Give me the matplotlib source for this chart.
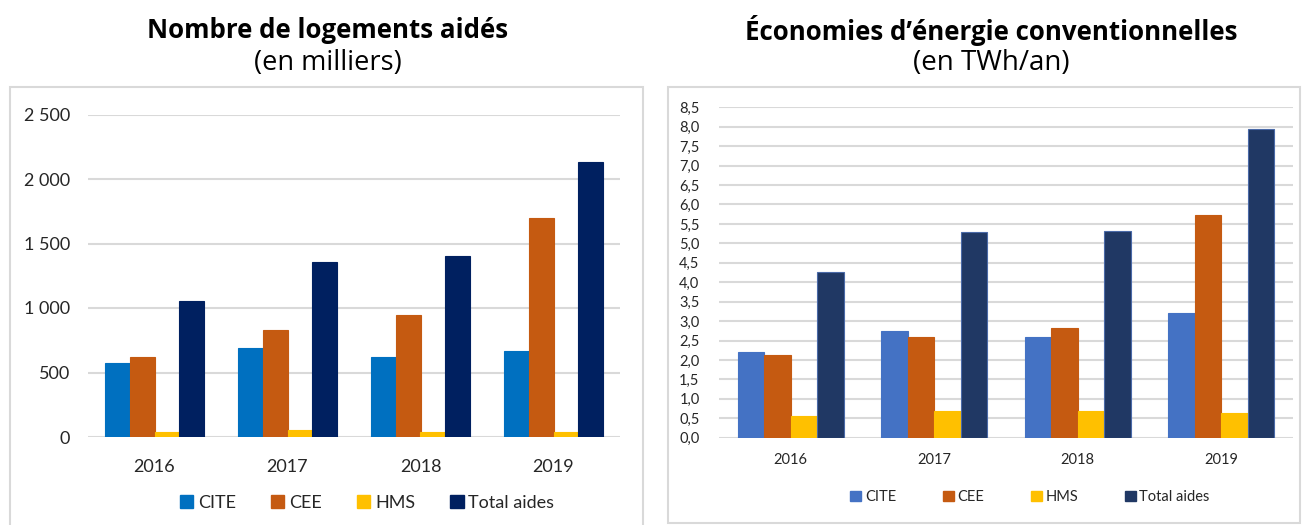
import numpy as np
import matplotlib
matplotlib.use("Agg")
import matplotlib.pyplot as plt
from matplotlib.patches import Rectangle, Patch

plt.rcParams['font.family'] = ['Lato', 'DejaVu Sans']

years = ['2016', '2017', '2018', '2019']
series = ['CITE', 'CEE', 'HMS', 'Total aides']

# Nombre de logements aidés (en milliers)
log_cite = [577, 691, 624, 670]
log_cee = [624, 831, 945, 1698]
log_hms = [41, 52, 41, 41]
log_total = [1056, 1359, 1405, 2130]

# Économies d'énergie conventionnelles (en TWh/an)
ener_cite = [2.21, 2.74, 2.58, 3.22]
ener_cee = [2.14, 2.60, 2.81, 5.72]
ener_hms = [0.57, 0.69, 0.69, 0.64]
ener_total = [4.26, 5.30, 5.32, 7.93]

left_ticks = [0, 500, 1000, 1500, 2000, 2500]
left_ticklabels = ['0', '500', '1 000', '1 500', '2 000', '2 500']
right_ticks = np.arange(0, 8.51, 0.5)
right_ticklabels = [('%.1f' % t).replace('.', ',') for t in right_ticks]

col_left = ['#0070C0', '#C55A11', '#FFC000', '#002060']
col_right = ['#4472C4', '#C55A11', '#FFC000', '#203864']
edge_right = ['#4472C4', '#C55A11', '#FFC000', '#4A6AA8']

W, H = 1302, 525
fig = plt.figure(figsize=(W / 100, H / 100), dpi=100)

def fx(px):
    return px / W

def fy(py):
    return 1 - py / H

# panel frames
for x0, x1, y0, y1 in [(10, 643, 87, 530), (668, 1300, 87, 523)]:
    fig.add_artist(Rectangle((fx(x0), fy(y1)), fx(x1) - fx(x0), fy(y0) - fy(y1),
                             transform=fig.transFigure, fill=False,
                             edgecolor='#D9D9D9', lw=1.5))

# titles
tfam = ['Open Sans', 'DejaVu Sans']
fig.text(fx(328), fy(30), 'Nombre de logements aidés', ha='center', va='center',
         fontsize=18.6, fontweight='bold', family=tfam)
fig.text(fx(328), fy(63), '(en milliers)', ha='center', va='center',
         fontsize=19.5, family=tfam)
fig.text(fx(991), fy(30), 'Économies d\u2019énergie conventionnelles', ha='center', va='center',
         fontsize=18.6, fontweight='bold', family=tfam)
fig.text(fx(991), fy(63), '(en TWh/an)', ha='center', va='center',
         fontsize=20, family=tfam)

def draw(ax, data, colors, edges, width):
    x = np.arange(len(years))
    n = len(data)
    for i, vals in enumerate(data):
        ax.bar(x + (i - (n - 1) / 2) * width, vals, width, color=colors[i],
               edgecolor=edges[i], linewidth=0.8, zorder=3)
    ax.set_xlim(-0.5, 3.5)
    ax.set_xticks(x)
    ax.set_xticklabels(years)
    for s in ax.spines.values():
        s.set_visible(False)
    ax.grid(axis='y', color='#D9D9D9', lw=1.5, zorder=0)
    ax.tick_params(length=0)

# left chart
ax1 = fig.add_axes([fx(88), fy(437), fx(620) - fx(88), fy(114.5) - fy(437)])
draw(ax1, [log_cite, log_cee, log_hms, log_total], col_left, col_left, 0.185)
ax1.set_ylim(0, 2500)
ax1.set_yticks(left_ticks)
ax1.set_yticklabels(left_ticklabels)
ax1.tick_params(axis='y', labelsize=13, pad=13, colors='#262626')
ax1.tick_params(axis='x', labelsize=13, pad=16, colors='#262626')

# right chart
ax2 = fig.add_axes([fx(719), fy(437.7), fx(1293) - fx(719), fy(107.3) - fy(437.7)])
draw(ax2, [ener_cite, ener_cee, ener_hms, ener_total], col_right, edge_right, 0.185)
ax2.set_ylim(0, 8.5)
ax2.set_yticks(right_ticks)
ax2.set_yticklabels(right_ticklabels)
ax2.tick_params(axis='y', labelsize=10.5, pad=14, colors='#262626')
ax2.tick_params(axis='x', labelsize=10.5, pad=11, colors='#262626')

# legends
h1 = [Patch(facecolor=c, edgecolor=c) for c in col_left]
fig.legend(h1, series, loc='center', bbox_to_anchor=(fx(367), fy(503)), ncol=4,
           frameon=False, fontsize=13, handlelength=0.75, handleheight=0.75,
           handletextpad=0.25, columnspacing=1.95, labelcolor='#262626')
h2 = [Patch(facecolor=c, edgecolor=c) for c in col_right]
fig.legend(h2, series, loc='center', bbox_to_anchor=(fx(1030), fy(497)), ncol=4,
           frameon=False, fontsize=10.5, handlelength=0.75, handleheight=0.75,
           handletextpad=0.25, columnspacing=3.2, labelcolor='#262626')

fig.savefig('out.png', dpi=100)
